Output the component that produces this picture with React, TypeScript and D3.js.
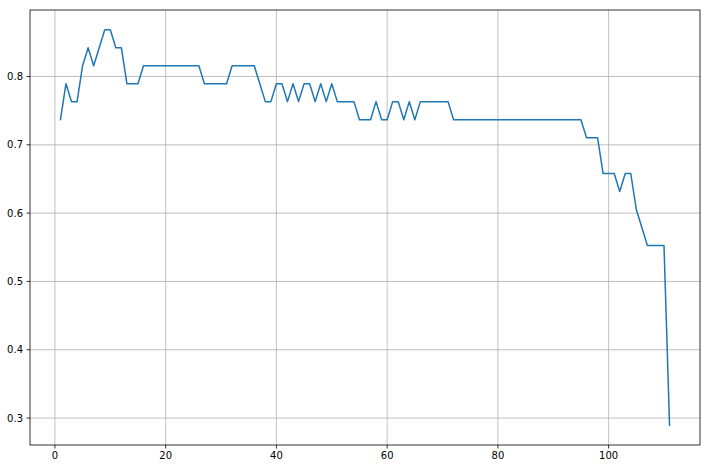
import React from "react";
import * as d3 from "d3";

const xValues: number[] = d3.range(1, 112);
const yValues: number[] = [
  0.7368, 0.7895, 0.7632, 0.7632, 0.8158, 0.8421, 0.8158, 0.8421, 0.8684, 0.8684,
  0.8421, 0.8421, 0.7895, 0.7895, 0.7895, 0.8158, 0.8158, 0.8158, 0.8158, 0.8158,
  0.8158, 0.8158, 0.8158, 0.8158, 0.8158, 0.8158, 0.7895, 0.7895, 0.7895, 0.7895,
  0.7895, 0.8158, 0.8158, 0.8158, 0.8158, 0.8158, 0.7895, 0.7632, 0.7632, 0.7895,
  0.7895, 0.7632, 0.7895, 0.7632, 0.7895, 0.7895, 0.7632, 0.7895, 0.7632, 0.7895,
  0.7632, 0.7632, 0.7632, 0.7632, 0.7368, 0.7368, 0.7368, 0.7632, 0.7368, 0.7368,
  0.7632, 0.7632, 0.7368, 0.7632, 0.7368, 0.7632, 0.7632, 0.7632, 0.7632, 0.7632,
  0.7632, 0.7368, 0.7368, 0.7368, 0.7368, 0.7368, 0.7368, 0.7368, 0.7368, 0.7368,
  0.7368, 0.7368, 0.7368, 0.7368, 0.7368, 0.7368, 0.7368, 0.7368, 0.7368, 0.7368,
  0.7368, 0.7368, 0.7368, 0.7368, 0.7368, 0.7105, 0.7105, 0.7105, 0.6579, 0.6579,
  0.6579, 0.6316, 0.6579, 0.6579, 0.6053, 0.5789, 0.5526, 0.5526, 0.5526, 0.5526,
  0.2895,
];
const xTicks: number[] = [0, 20, 40, 60, 80, 100];
const yTicks: number[] = [0.3, 0.4, 0.5, 0.6, 0.7, 0.8];

const W = 710;
const H = 469;
const M = { left: 30, right: 700, top: 10, bottom: 445 };

export default function App() {
  const xMin = d3.min(xValues)!;
  const xMax = d3.max(xValues)!;
  const yMin = d3.min(yValues)!;
  const yMax = d3.max(yValues)!;
  const xPad = (xMax - xMin) * 0.05;
  const yPad = (yMax - yMin) * 0.05;
  const x = d3.scaleLinear().domain([xMin - xPad, xMax + xPad]).range([M.left, M.right]);
  const y = d3.scaleLinear().domain([yMin - yPad, yMax + yPad]).range([M.bottom, M.top]);
  const line = d3
    .line<number>()
    .x((_, i) => x(xValues[i]))
    .y((d) => y(d));
  const font = "'DejaVu Sans', sans-serif";
  return (
    <svg
      width={W}
      height={H}
      style={{ position: "absolute", left: 0, top: 0, background: "#fff" }}
    >
      <rect x={0} y={0} width={W} height={H} fill="#fff" />
      <g>
        {xTicks.map((t) => (
          <line key={"gx" + t} x1={x(t)} x2={x(t)} y1={M.top} y2={M.bottom} stroke="#b0b0b0" strokeWidth={0.8} />
        ))}
        {yTicks.map((t) => (
          <line key={"gy" + t} x1={M.left} x2={M.right} y1={y(t)} y2={y(t)} stroke="#b0b0b0" strokeWidth={0.8} />
        ))}
      </g>
      <path d={line(yValues) || ""} fill="none" stroke="#1f77b4" strokeWidth={1.5} strokeLinejoin="round" strokeLinecap="square" />
      <rect
        x={M.left}
        y={M.top}
        width={M.right - M.left}
        height={M.bottom - M.top}
        fill="none"
        stroke="#000"
        strokeWidth={0.8}
      />
      {xTicks.map((t) => (
        <g key={"tx" + t}>
          <line x1={x(t)} x2={x(t)} y1={M.bottom} y2={M.bottom + 3.5} stroke="#000" strokeWidth={0.8} />
          <text x={x(t)} y={M.bottom + 7} textAnchor="middle" dominantBaseline="hanging" fontFamily={font} fontSize={10} fill="#000">
            {t}
          </text>
        </g>
      ))}
      {yTicks.map((t) => (
        <g key={"ty" + t}>
          <line x1={M.left - 3.5} x2={M.left} y1={y(t)} y2={y(t)} stroke="#000" strokeWidth={0.8} />
          <text x={M.left - 7} y={y(t)} textAnchor="end" dominantBaseline="central" fontFamily={font} fontSize={10} fill="#000">
            {t.toFixed(1)}
          </text>
        </g>
      ))}
    </svg>
  );
}
